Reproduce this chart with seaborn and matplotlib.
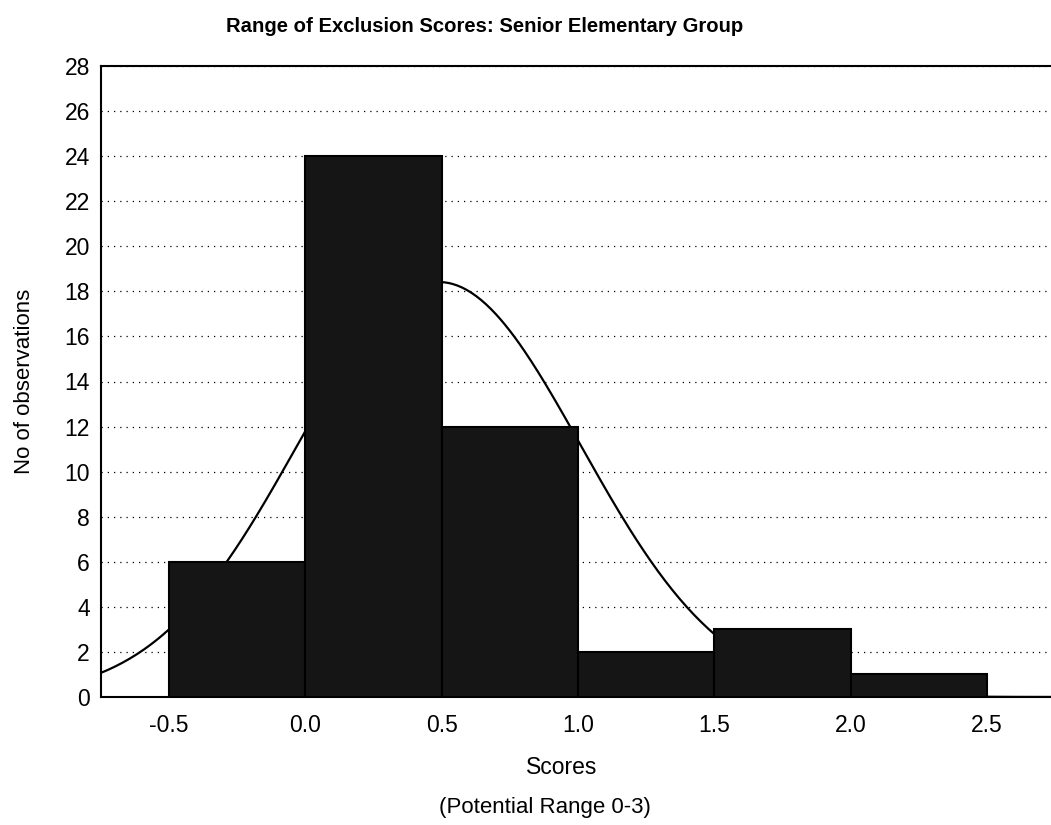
import numpy as np
import pandas as pd
import matplotlib
matplotlib.use("Agg")
import matplotlib.pyplot as plt
import seaborn as sns

# Data
bin_edges = [-0.5, 0.0, 0.5, 1.0, 1.5, 2.0, 2.5]
counts = [6, 24, 12, 2, 3, 1]
fit_mean = 0.49
fit_sd = 0.52
x_ticks = [-0.5, 0.0, 0.5, 1.0, 1.5, 2.0, 2.5]
y_ticks = list(range(0, 29, 2))

title = "Range of Exclusion Scores: Senior Elementary Group"
xlabel = "Scores"
sublabel = "(Potential Range 0-3)"
ylabel = "No of observations"

sns.set_style("white")
plt.rcParams['font.family'] = ['Liberation Sans', 'DejaVu Sans']
plt.rcParams['text.color'] = 'black'

W, H = 1051, 825
fig = plt.figure(figsize=(W / 100, H / 100), dpi=100)
ax = fig.add_axes([101 / W, (H - 697) / H, 954 / W, 631 / H])

mids = [(a + b) / 2 for a, b in zip(bin_edges[:-1], bin_edges[1:])]
df = pd.DataFrame({"score": mids, "n": counts})

# fitted normal curve (scaled to counts)
n_total = sum(counts)
width = bin_edges[1] - bin_edges[0]
xs = np.linspace(-0.75, 2.75, 400)
ys = n_total * width / (fit_sd * np.sqrt(2 * np.pi)) * np.exp(-(xs - fit_mean) ** 2 / (2 * fit_sd ** 2))
sns.lineplot(x=xs, y=ys, ax=ax, color="black", linewidth=1.6, zorder=2)

sns.histplot(data=df, x="score", weights="n", bins=bin_edges, ax=ax,
             color="#151515", edgecolor="black", linewidth=1.5, alpha=1.0, zorder=3)

ax.set_xlim(-0.75, 2.75)
ax.set_ylim(0, 28)
ax.set_xticks(x_ticks)
ax.set_xticklabels([f"{v:.1f}" for v in x_ticks])
ax.set_yticks(y_ticks)
ax.yaxis.grid(True, linestyle=(0, (1, 4)), color="black", linewidth=0.9, zorder=0)
ax.xaxis.grid(False)
ax.set_axisbelow(True)
for s in ax.spines.values():
    s.set_color("black")
    s.set_linewidth(1.5)
ax.tick_params(axis="both", labelsize=16.5, colors="black", labelcolor="black", length=3, direction="out")
ax.tick_params(axis="x", pad=9)
ax.tick_params(axis="y", pad=5)

ax.set_xlabel("")
ax.set_ylabel("")
fig.text(25 / W, 1 - 381 / H, ylabel, ha="center", va="center", rotation=90, fontsize=16, color="black")
fig.text(562 / W, 1 - 768 / H, xlabel, ha="center", va="center", fontsize=16.5, color="black")
fig.text(545 / W, 1 - 807 / H, sublabel, ha="center", va="center", fontsize=16, color="black")
fig.text(485 / W, 1 - 27 / H, title, ha="center", va="center", fontsize=14.6, fontweight="bold", color="black")

fig.savefig("out.png", dpi=100)
